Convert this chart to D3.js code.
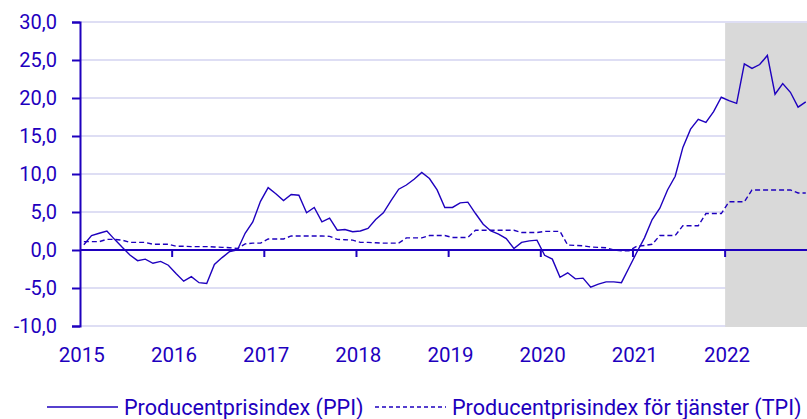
<!DOCTYPE html>
<html>
<head>
<meta charset="utf-8">
<script src="https://cdn.jsdelivr.net/npm/d3@7"></script>
<style>
  body { margin: 0; background: #fff; }
  text { font-family: Roboto, "Noto Sans", sans-serif; }
</style>
</head>
<body>
<div id="chart"></div>
<script>
// Producentprisindex, årlig förändring i procent, jan 2015 - nov 2022

const years = ['2015', '2016', '2017', '2018', '2019', '2020', '2021', '2022'];
const yTicks = [-10, -5, 0, 5, 10, 15, 20, 25, 30];

// PPI, månadsvärden
const ppi = [
  0.7, 1.9, 2.2, 2.5, 1.4, 0.35, -0.65, -1.4, -1.2, -1.75, -1.5, -2.0,
  -3.1, -4.1, -3.5, -4.3, -4.4, -1.9, -1.0, -0.2, 0.0, 2.2, 3.7, 6.4,
  8.2, 7.4, 6.5, 7.3, 7.2, 4.9, 5.6, 3.7, 4.2, 2.6, 2.7, 2.4,
  2.5, 2.85, 4.0, 4.9, 6.5, 8.0, 8.55, 9.3, 10.2, 9.4, 7.9, 5.6,
  5.6, 6.2, 6.3, 4.8, 3.4, 2.5, 2.1, 1.5, 0.2, 1.0, 1.2, 1.3,
  -0.7, -1.2, -3.6, -3.0, -3.8, -3.7, -4.9, -4.5, -4.2, -4.2, -4.3, -2.3,
  -0.3, 1.6, 4.0, 5.5, 7.9, 9.7, 13.5, 15.9, 17.2, 16.8, 18.2, 20.1,
  19.65, 19.3, 24.5, 23.9, 24.4, 25.6, 20.5, 21.9, 20.75, 18.8, 19.5
];

// TPI, månadsvärden
const tpi = [
  1.1, 1.1, 1.1, 1.4, 1.4, 1.3, 1.0, 1.0, 1.0, 0.75, 0.75, 0.75,
  0.5, 0.5, 0.45, 0.45, 0.45, 0.4, 0.35, 0.3, 0.2, 0.8, 0.9, 0.9,
  1.45, 1.45, 1.45, 1.85, 1.85, 1.85, 1.85, 1.85, 1.8, 1.4, 1.35, 1.3,
  1.0, 1.0, 0.95, 0.9, 0.9, 0.9, 1.6, 1.6, 1.6, 1.9, 1.9, 1.9,
  1.65, 1.65, 1.65, 2.6, 2.6, 2.6, 2.6, 2.6, 2.6, 2.3, 2.3, 2.3,
  2.45, 2.45, 2.45, 0.65, 0.6, 0.55, 0.4, 0.35, 0.3, 0.0, -0.1, -0.1,
  0.5, 0.6, 0.75, 1.9, 1.9, 1.9, 3.2, 3.2, 3.2, 4.8, 4.8, 4.8,
  6.35, 6.35, 6.35, 7.9, 7.9, 7.9, 7.9, 7.9, 7.9, 7.5, 7.5
];

const shadeFrom = '2022-01'; // preliminära siffror

const seriesNames = ['Producentprisindex (PPI)', 'Producentprisindex för tjänster (TPI)'];

const width = 807;
const height = 419;
const blue = '#1e00be';
const gridColor = '#d3d3f1';

const months = d3.range(ppi.length).map(function(i) {
  return d3.timeFormat('%Y-%m')(d3.timeMonth.offset(new Date(2015, 0, 1), i));
});

const svg = d3.select('#chart')
  .append('svg')
  .attr('width', width)
  .attr('height', height)
  .attr('style', 'background-color:white');

const x = d3.scaleBand()
  .domain(months)
  .range([80, 80 + months.length * 7.68])
  .padding(0);
const bw = x.bandwidth();
const cx = function(m) { return x(m) + bw / 2; };

const y = d3.scaleLinear().domain([-10, 30]).range([326, 22]);

const sv = d3.formatLocale({ decimal: ',', thousands: ' ', grouping: [3], currency: ['', ' kr'], minus: '-' });
const fmt = sv.format('.1f');

// gridlines
svg.append('g')
  .selectAll('line')
  .data(yTicks)
  .enter()
  .append('line')
  .attr('x1', 80)
  .attr('x2', width)
  .attr('y1', function(d) { return y(d); })
  .attr('y2', function(d) { return y(d); })
  .attr('stroke', gridColor)
  .attr('stroke-width', 1.5);

// shaded period
svg.append('rect')
  .attr('x', x(shadeFrom))
  .attr('y', y(30) + 1)
  .attr('width', width - x(shadeFrom))
  .attr('height', y(-10) - y(30))
  .attr('fill', '#d9d9d9');

// y axis
const yAxis = svg.append('g')
  .attr('transform', 'translate(80,0)')
  .call(d3.axisLeft(y).tickValues(yTicks).tickFormat(fmt).tickSize(8).tickPadding(15));
yAxis.select('.domain').attr('stroke', blue).attr('stroke-width', 2);
yAxis.selectAll('.tick line').attr('stroke', blue).attr('stroke-width', 2);
yAxis.selectAll('.tick text')
  .attr('fill', blue)
  .attr('font-size', 20)
  .attr('font-family', 'Roboto, sans-serif');

// zero line with year ticks
svg.append('line')
  .attr('x1', 80)
  .attr('x2', width)
  .attr('y1', y(0))
  .attr('y2', y(0))
  .attr('stroke', blue)
  .attr('stroke-width', 2);

svg.append('g')
  .selectAll('line')
  .data(years.slice(1))
  .enter()
  .append('line')
  .attr('x1', function(d) { return x(d + '-01'); })
  .attr('x2', function(d) { return x(d + '-01'); })
  .attr('y1', y(0))
  .attr('y2', y(0) + 7)
  .attr('stroke', blue)
  .attr('stroke-width', 2);

svg.append('g')
  .selectAll('text')
  .data(years)
  .enter()
  .append('text')
  .attr('x', function(d) { return cx(d + '-01') - 2; })
  .attr('y', 362)
  .attr('text-anchor', 'middle')
  .attr('font-size', 20.5)
  .attr('fill', blue)
  .text(function(d) { return d; });

// lines
const line = d3.line()
  .x(function(d, i) { return cx(months[i]); })
  .y(function(d) { return y(d); });

svg.append('path')
  .datum(tpi)
  .attr('d', line)
  .attr('fill', 'none')
  .attr('stroke', blue)
  .attr('stroke-width', 1.4)
  .attr('stroke-dasharray', '5,3');

svg.append('path')
  .datum(ppi)
  .attr('d', line)
  .attr('fill', 'none')
  .attr('stroke', blue)
  .attr('stroke-width', 1.4);

// legend
const legend = [
  { name: seriesNames[0], x: 47, dash: null },
  { name: seriesNames[1], x: 375, dash: '4,3' }
];
const lg = svg.append('g');
legend.forEach(function(l) {
  lg.append('line')
    .attr('x1', l.x)
    .attr('x2', l.x + 71)
    .attr('y1', 407)
    .attr('y2', 407)
    .attr('stroke', blue)
    .attr('stroke-width', 1.4)
    .attr('stroke-dasharray', l.dash);
  lg.append('text')
    .attr('x', l.x + 77)
    .attr('y', 414.5)
    .attr('font-size', 21.6)
    .attr('fill', blue)
    .text(l.name);
});
</script>
</body>
</html>
